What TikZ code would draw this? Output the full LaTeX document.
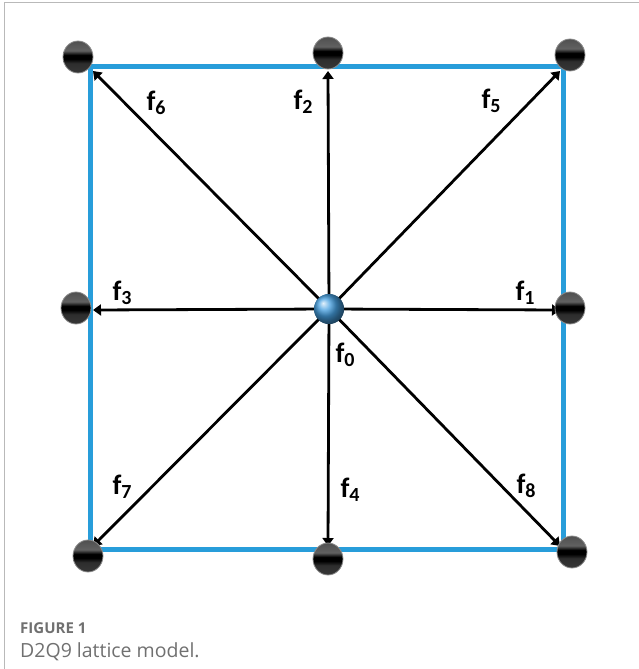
\documentclass[tikz,border=0pt]{standalone}
\usepackage{fontspec}
\setmainfont{Carlito}
\newfontfamily\capfont{Open Sans}
\usetikzlibrary{arrows.meta,shapes.geometric}
\definecolor{latblue}{RGB}{40,157,218}
\definecolor{capgray}{RGB}{112,112,112}
\pgfdeclareverticalshading{knob}{100bp}{color(0bp)=(black!72); color(40bp)=(black!82); color(47bp)=(black); color(53bp)=(black); color(60bp)=(black!62); color(100bp)=(black!80)}
\newcommand{\fsub}[1]{\fontsize{28}{28}\selectfont f\raisebox{-4pt}{\fontsize{20}{20}\selectfont #1}}

\begin{document}
\begin{tikzpicture}[x=1pt,y=-1pt,>={Triangle[length=8pt,width=11pt]},
  dot/.style={ellipse,minimum width=30pt,minimum height=32pt,inner sep=0pt,shading=knob,draw=black!45,line width=0.8pt},
  hub/.style={circle,minimum size=30pt,inner sep=0pt,shading=ball,ball color={rgb,255:red,70;green,160;blue,225}},
  edge/.style={line width=5pt,draw=latblue},
  vec/.style={->,line width=2.8pt},
  lab/.style={font=\bfseries,inner sep=0pt}]
\useasboundingbox (0,0) rectangle (639,669);
\draw[gray!55,line width=1pt] (4,669) -- (4,3) -- (639,3);
% lattice cell
\coordinate (c6) at (90,67);
\coordinate (c5) at (563,67);
\coordinate (c8) at (563,549);
\coordinate (c7) at (90,549);
\draw[edge] (c6) -- (c5) -- (c8) -- (c7) -- cycle;
% arrow tips on the cell
\foreach \i/\x/\y in {1/560/310,2/328/71,3/93/310,4/328/546,5/560/71,6/93/71,7/93/546,8/560/546}
  \coordinate (e\i) at (\x,\y);
\node[hub] (n0) at (329,309) {};
\foreach \i in {1,...,8}
  \draw[vec] (n0.center) -- (e\i);
\node[hub] at (n0) {};
% lattice nodes
\foreach \i/\x/\y in {1/570/308,2/328/53,3/76/308,4/328/559,5/570/55,6/78/57,7/88/556,8/572/552}
  \node[dot] (n\i) at (\x,\y) {};
% labels
\foreach \i/\x/\y in {0/345/355,1/525/293,2/303/102,3/122/293,4/350/490,5/491/101,6/156/103,7/122/487,8/526/486}
  \node[lab] (l\i) at (\x,\y) {\fsub{\i}};
% caption
\node[anchor=base west,inner sep=0pt,text=capgray,font=\capfont\bfseries\fontsize{15}{15}\selectfont] (fig) at (20,633) {FIGURE 1};
\node[anchor=base west,inner sep=0pt,text=capgray,font=\capfont\fontsize{19.5}{19.5}\selectfont] (cap) at (20,657) {D2Q9 lattice model.};
\end{tikzpicture}
\end{document}
